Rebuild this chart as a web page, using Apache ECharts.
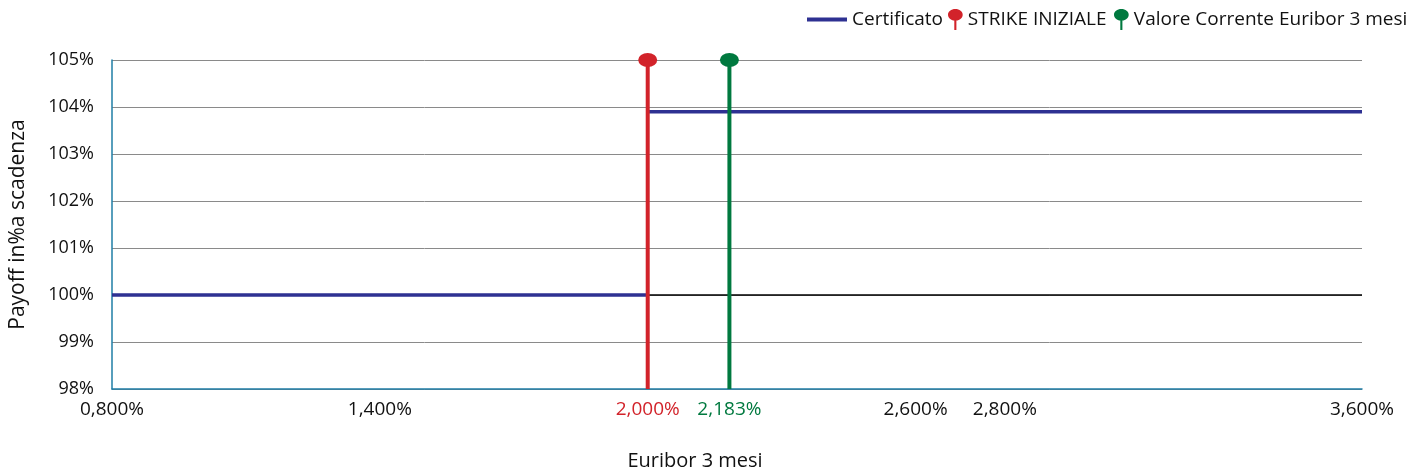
<!DOCTYPE html>
<html><head><meta charset="utf-8">
<script src="https://cdn.jsdelivr.net/npm/echarts@6/dist/echarts.min.js"></script>
<style>html,body{margin:0;padding:0;background:#fff}#c{width:1409px;height:470px}</style>
</head><body><div id="c"></div>
<script>
const xTicks = [0.8, 1.4, 2.0, 2.183, 2.6, 2.8, 3.6];
const certificatoLow = [[0.8, 100], [2.0, 100]];
const certificatoHigh = [[2.0, 103.9], [3.6, 103.9]];
const strikeIniziale = 2.0;
const valoreCorrente = 2.183;
const refLevel = 100;
const yMin = 98, yMax = 105, xMin = 0.8, xMax = 3.6;

const RED = '#d2232a', GREEN = '#00793f', NAVY = '#2e3192';
const FONT = '"Open Sans", "Noto Sans", sans-serif';
const pin = 'path://M7,0 C11,0 14,2.5 14,5.5 C14,8.5 11,11 8,11 L8,20 L6,20 L6,11 C3,11 0,8.5 0,5.5 C0,2.5 3,0 7,0 Z';
const legText = {fontSize: 19, color: '#111', fontFamily: FONT};

const chart = echarts.init(document.getElementById('c'), null, {renderer: 'canvas'});
chart.setOption({
  animation: false,
  textStyle: {fontFamily: FONT},
  grid: {left: 112, right: 47, top: 60, bottom: 81, containLabel: false, outerBoundsMode: 'none'},
  legend: [
    {left: 807, top: 10, padding: 0, itemWidth: 40, itemHeight: 20, textStyle: legText,
      data: [{name: 'Certificato', icon: 'path://M0,0 L40,0 L40,4 L0,4 Z', itemStyle: {color: NAVY}}]},
    {left: 948, top: 9, padding: 0, itemWidth: 15, itemHeight: 21, textStyle: legText,
      data: [{name: 'STRIKE INIZIALE', icon: pin, itemStyle: {color: RED}}]},
    {left: 1114, top: 9, padding: 0, itemWidth: 15, itemHeight: 21, textStyle: legText,
      data: [{name: 'Valore Corrente Euribor 3 mesi', icon: pin, itemStyle: {color: GREEN}}]}
  ],
  xAxis: {
    type: 'value', min: xMin, max: xMax,
    name: 'Euribor 3 mesi', nameLocation: 'middle', nameGap: 62,
    nameTextStyle: {fontSize: 20, color: '#111', padding: [0, 84, 0, 0]},
    axisLine: {show: true, lineStyle: {color: '#1f7ea6', width: 1.5}},
    axisTick: {show: false},
    splitLine: {show: false},
    axisLabel: {
      customValues: xTicks, margin: 11, fontSize: 19, color: '#111',
      formatter: function (v) {
        const s = v.toFixed(3).replace('.', ',') + '%';
        if (Math.abs(v - strikeIniziale) < 1e-6) return '{r|' + s + '}';
        if (Math.abs(v - valoreCorrente) < 1e-6) return '{g|' + s + '}';
        return s;
      },
      rich: {r: {color: RED, fontSize: 19}, g: {color: GREEN, fontSize: 19}}
    }
  },
  yAxis: {
    type: 'value', min: yMin, max: yMax, interval: 1,
    name: 'Payoff in%a scadenza', nameLocation: 'middle', nameGap: 83,
    nameTextStyle: {fontSize: 21, color: '#111'},
    axisLine: {show: true, lineStyle: {color: '#1f7ea6', width: 1.5}},
    axisTick: {show: false},
    axisLabel: {fontSize: 18, color: '#111', margin: 18, formatter: '{value}%'},
    splitLine: {show: true, lineStyle: {color: '#8a8a8a', width: 1}}
  },
  series: [
    {
      name: 'base', type: 'line', z: 1, silent: true, showSymbol: false,
      lineStyle: {color: '#000', width: 1.5},
      data: [[xMin, refLevel], [xMax, refLevel]]
    },
    {
      name: 'Certificato', type: 'line', z: 3, showSymbol: false,
      lineStyle: {color: NAVY, width: 3.5}, itemStyle: {color: NAVY},
      data: certificatoLow.concat([['-', '-']], certificatoHigh),
      connectNulls: false
    },
    {
      name: 'STRIKE INIZIALE', type: 'line', z: 4, clip: false,
      lineStyle: {color: RED, width: 4}, itemStyle: {color: RED},
      symbol: 'circle',
      data: [{value: [strikeIniziale, yMin], symbolSize: 0}, {value: [strikeIniziale, yMax], symbolSize: [19, 14]}]
    },
    {
      name: 'Valore Corrente Euribor 3 mesi', type: 'line', z: 4, clip: false,
      lineStyle: {color: GREEN, width: 4}, itemStyle: {color: GREEN},
      symbol: 'circle',
      data: [{value: [valoreCorrente, yMin], symbolSize: 0}, {value: [valoreCorrente, yMax], symbolSize: [19, 14]}]
    }
  ]
});
</script></body></html>
